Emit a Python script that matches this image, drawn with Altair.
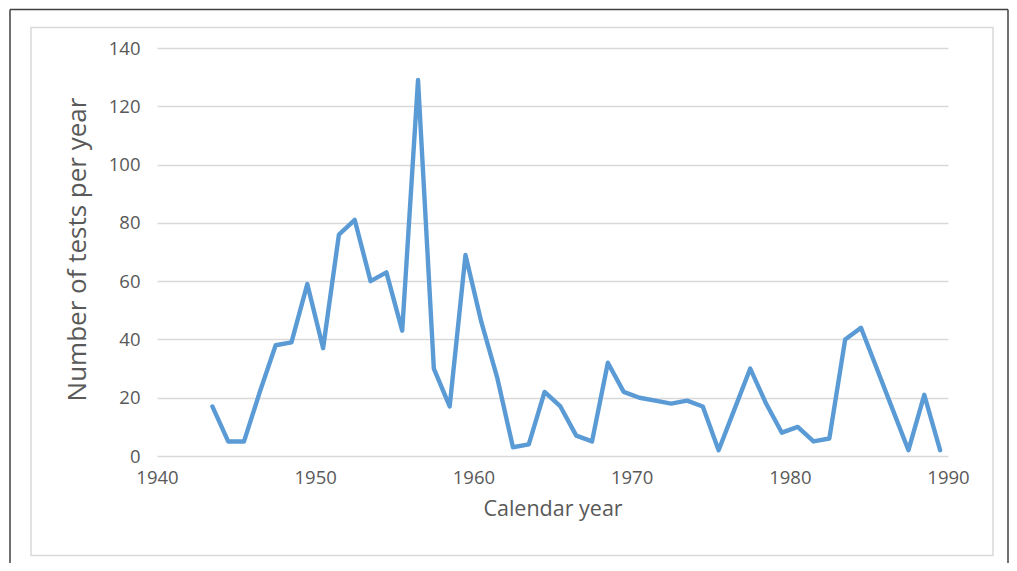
import altair as alt
import pandas as pd

years = [1943, 1944, 1945, 1946, 1947, 1948, 1949, 1950, 1951, 1952,
         1953, 1954, 1955, 1956, 1957, 1958, 1959, 1960, 1961, 1962,
         1963, 1964, 1965, 1966, 1967, 1968, 1969, 1970, 1971, 1972,
         1973, 1974, 1975, 1976, 1977, 1978, 1979, 1980, 1981, 1982,
         1983, 1984, 1985, 1986, 1987, 1988, 1989]
tests = [17, 5, 5, 22, 38, 39, 59, 37, 76, 81,
         60, 63, 43, 129, 30, 17, 69, 46, 27, 3,
         4, 22, 17, 7, 5, 32, 22, 20, 19, 18,
         19, 17, 2, 16, 30, 18, 8, 10, 5, 6,
         40, 44, 30, 16, 2, 21, 2]
x_ticks = [1940, 1950, 1960, 1970, 1980, 1990]
y_ticks = [0, 20, 40, 60, 80, 100, 120, 140]

df = pd.DataFrame({"year": years, "tests": tests})

FONT = "Open Sans"
W, H = 791, 408
PAD_L, PAD_T = 149, 40
TOTAL_W, TOTAL_H = 1001, 555

x_enc = alt.X("mid:Q",
              scale=alt.Scale(domain=[1940, 1990], nice=False, zero=False),
              axis=alt.Axis(values=x_ticks, format="d", title="Calendar year",
                            grid=False, domain=False, ticks=False,
                            labelFontSize=18.5, labelColor="#595959", labelFont=FONT,
                            labelPadding=12, labelFlush=False,
                            titleFontSize=21.5, titleColor="#595959", titleFont=FONT,
                            titleFontWeight="normal", titlePadding=12))
y_enc = alt.Y("tests:Q",
              scale=alt.Scale(domain=[0, 140], nice=False),
              axis=alt.Axis(values=y_ticks, title="Number of tests per year",
                            grid=True, gridColor="#D9D9D9", gridWidth=1.5,
                            domain=False, ticks=False,
                            labelFontSize=18.5, labelColor="#595959", labelFont=FONT,
                            labelPadding=17,
                            titleFontSize=26, titleColor="#595959", titleFont=FONT,
                            titleFontWeight="normal", titleX=-80, titleY=H / 2 - 3,
                            titleAngle=-90, titleBaseline="middle", titleAlign="center"))

line = alt.Chart(df).transform_calculate(
    mid="datum.year + 0.5"
).mark_line(color="#5B9BD5", strokeWidth=4.4, strokeJoin="round", strokeCap="round").encode(
    x=x_enc, y=y_enc
)

# decorative frames (chart area border and outer border)
inner = alt.Chart(df).mark_rect(fill=None, stroke="#D9D9D9", strokeWidth=1.5).encode(
    x=alt.value(-126), x2=alt.value(836), y=alt.value(-20.5), y2=alt.value(507.5)
).transform_filter("datum.year == 1943")
outer_top = alt.Chart(df).mark_rule(color="#404040", strokeWidth=1.5).encode(
    x=alt.value(-147), x2=alt.value(851), y=alt.value(-38.5)
).transform_filter("datum.year == 1943")
outer_left = alt.Chart(df).mark_rule(color="#404040", strokeWidth=1.5).encode(
    x=alt.value(-147), y=alt.value(-38.5), y2=alt.value(520)
).transform_filter("datum.year == 1943")
outer_right = alt.Chart(df).mark_rule(color="#404040", strokeWidth=1.5).encode(
    x=alt.value(851), y=alt.value(-38.5), y2=alt.value(520)
).transform_filter("datum.year == 1943")

chart = alt.layer(inner, outer_top, outer_left, outer_right, line).properties(
    width=W, height=H,
    autosize=alt.AutoSizeParams(type="none"),
    padding={"left": PAD_L, "top": PAD_T, "right": TOTAL_W - PAD_L - W,
             "bottom": TOTAL_H - PAD_T - H},
    background="white",
).configure_view(stroke=None)

chart.save("out.html", embed_options={"renderer": "svg", "actions": False})
